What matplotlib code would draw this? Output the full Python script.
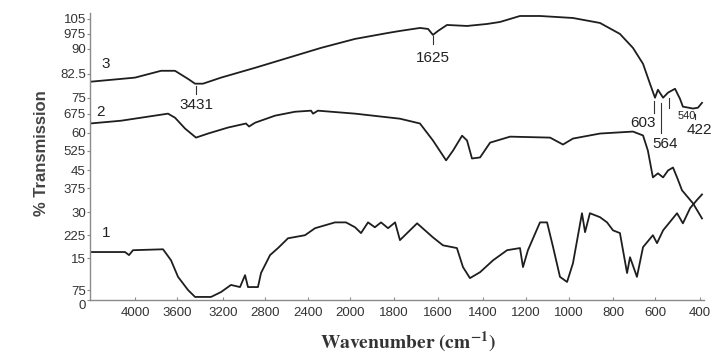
import numpy as np
import matplotlib
matplotlib.use("Agg")
import matplotlib.pyplot as plt

plt.rcParams['font.family'] = ['Liberation Sans', 'DejaVu Sans']
plt.rcParams['mathtext.fontset'] = 'stix'

# spectrum 3 (top)
wn3 = [4400, 4000, 3752, 3619, 3504, 3443, 3374, 3217, 2895, 2586, 2276, 1977,
       1827, 1773, 1682, 1645, 1623, 1600, 1560, 1471, 1381, 1321, 1228, 1135,
       982, 859, 767, 705, 657, 624, 600, 587, 564, 542, 511, 489, 476, 431, 409, 395]
t3 = [80.0, 81.3, 83.4, 83.4, 80.9, 79.4, 79.4, 81.3, 84.3, 87.3, 90.5, 95.0,
      98.0, 99.0, 100.5, 100.0, 97.0, 99.0, 102.0, 101.5, 102.5, 103.5, 106.5, 106.5,
      105.5, 103.0, 97.5, 90.5, 85.5, 79.4, 75.0, 77.5, 75.0, 76.6, 77.8, 74.5, 70.8, 69.9, 70.3, 72.6]

# spectrum 2 (middle)
wn2 = [4400, 4124, 3686, 3619, 3530, 3435, 3330, 3152, 2981, 2952, 2895, 2707,
       2521, 2371, 2352, 2305, 1977, 1773, 1682, 1623, 1564, 1533, 1493, 1471,
       1449, 1413, 1367, 1274, 1088, 1028, 982, 859, 705, 657, 634, 610, 587,
       564, 542, 520, 502, 480, 431, 395]
t2 = [63.6, 64.7, 67.5, 65.9, 61.6, 57.9, 59.6, 62.0, 63.6, 62.4, 63.9, 66.7,
      68.4, 68.9, 67.5, 68.9, 67.5, 65.5, 63.6, 56.7, 48.8, 52.5, 58.7, 56.7,
      49.5, 49.9, 55.8, 58.3, 57.9, 55.0, 57.5, 59.6, 60.4, 58.8, 52.5, 42.1, 43.8,
      42.1, 45.0, 46.1, 42.1, 36.9, 32.8, 28.0]

# spectrum 1 (bottom)
wn1 = [4400, 4089, 4053, 4018, 3733, 3657, 3591, 3504, 3443, 3304, 3217, 3124,
       3038, 2990, 2962, 2867, 2838, 2753, 2679, 2586, 2428, 2333, 2143, 2038,
       1977, 1950, 1918, 1887, 1859, 1827, 1795, 1773, 1695, 1623, 1578, 1516,
       1489, 1458, 1413, 1353, 1288, 1228, 1214, 1191, 1135, 1102, 1074, 1042,
       1009, 982, 941, 927, 905, 859, 827, 800, 767, 733, 719, 686, 657, 610,
       591, 564, 502, 476, 444, 413, 395]
t1 = [17.0, 17.0, 16.0, 17.6, 17.9, 14.5, 10.6, 7.5, 2.3, 2.3, 6.0, 8.7,
      8.2, 11.0, 8.2, 8.2, 11.5, 16.0, 18.3, 21.5, 22.5, 24.8, 26.7, 26.7,
      25.1, 23.2, 26.7, 25.1, 26.7, 24.8, 26.7, 20.9, 26.4, 21.8, 19.2, 18.3,
      12.9, 10.3, 11.7, 14.5, 17.6, 18.3, 12.9, 17.6, 26.7, 26.7, 18.6, 10.6,
      9.4, 13.8, 29.7, 23.5, 29.7, 28.4, 26.7, 24.1, 23.2, 11.5, 15.3, 10.6, 18.6, 22.5,
      19.9, 24.1, 29.7, 26.4, 31.3, 33.9, 35.6]

xtick_vals = [4000, 3600, 3200, 2800, 2400, 2000, 1800, 1600, 1400, 1200, 1000, 800, 600, 400]
ytick_vals = [0, 7.5, 15, 22.5, 30, 37.5, 45, 52.5, 60, 67.5, 75, 82.5, 90, 97.5, 105]
ytick_text = ["0", "75", "15", "225", "30", "375", "45", "525", "60", "675",
              "75", "82.5", "90", "975", "105"]

# peak marks: (label, wavenumber, line from, line to, label x, label y, size)
peaks = [("3431", 3431, 78.8, 76.3, 3431, 71.7, 11),
         ("1625", 1625, 96.5, 92.5, 1625, 87.3, 11),
         ("603", 603, 73.6, 67.9, 657, 63.9, 11),
         ("564", 572, 72.7, 60.0, 555, 55.4, 11),
         ("540", 540, 75.0, 70.3, 458, 66.7, 8),
         ("422", 424, 67.5, 65.5, 404, 61.2, 11)]

# the hand drawn axes of the original are not linear
xk_w = np.array([390, 400, 600, 800, 1000, 1200, 1400, 1600, 1800, 2000, 2400,
                 2800, 3200, 3600, 4000, 4400], float)
xk_p = -np.array([704, 700, 655, 613, 569, 526, 483, 438, 394, 350, 308,
                  265, 223, 177, 135, 90], float)
yk_v = [0, 7.5, 15, 22.5, 30, 37.5, 45, 52.5, 60, 67.5, 75, 82.5, 90, 97.5, 105, 110]
yk_p = [0, 10, 42, 65, 88, 112, 130, 150, 168, 187, 203, 227, 252, 267, 282, 292]


def xf(x):
    return np.interp(np.asarray(x, float), xk_w, xk_p)


def xi(p):
    return np.interp(np.asarray(p, float), xk_p, xk_w)


def yf(y):
    return np.interp(np.asarray(y, float), yk_v, yk_p)


def yi(p):
    return np.interp(np.asarray(p, float), yk_p, yk_v)


fig = plt.figure(figsize=(7.23, 3.56), dpi=100)
ax = fig.add_axes([90 / 723, 56 / 356, 614 / 723, 287 / 356])
ax.set_xscale('function', functions=(xf, xi))
ax.set_yscale('function', functions=(yf, yi))

lc = '#1e1e1e'
for wn, t in [(wn3, t3), (wn2, t2), (wn1, t1)]:
    ax.plot(wn, t, color=lc, lw=1.3)

for lab, w, y0, y1, tx, ty, fs in peaks:
    ax.plot([w, w], [y0, y1], color='#333333', lw=0.8)
    ax.text(tx, ty, lab, ha='center', va='center', fontsize=fs, color='#222222')

ax.text(4258, 85.5, "3", fontsize=11, ha='center', va='center', color='#222222')
ax.text(4311, 68.4, "2", fontsize=11, ha='center', va='center', color='#222222')
ax.text(4258, 23.2, "1", fontsize=11, ha='center', va='center', color='#222222')

ax.set_xlim(4400, 390)
ax.set_ylim(0, 108)
ax.set_xticks(xtick_vals)
ax.set_xticklabels([str(v) for v in xtick_vals])
ax.set_yticks(ytick_vals)
ax.set_yticklabels(ytick_text)
ax.minorticks_off()

for s in ['top', 'right']:
    ax.spines[s].set_visible(False)
for s in ['left', 'bottom']:
    ax.spines[s].set_color('#8a8a8a')
    ax.spines[s].set_linewidth(1.0)
ax.tick_params(axis='both', length=2, width=0.8, color='#8a8a8a',
               labelsize=9.5, labelcolor='#333333')
ax.tick_params(axis='x', direction='in', pad=5)
ax.tick_params(axis='y', direction='out', pad=1)
ax.get_yticklabels()[0].set_va('top')

fig.text(42 / 723, 1 - 153 / 356, "% Transmission", rotation=90, ha='center',
         va='center', fontsize=12, fontweight='bold', color='#444444')
fig.text(408 / 723, 1 - 342 / 356, r'$\mathbf{Wavenumber\ (cm^{-1})}$', ha='center',
         va='center', fontsize=14, color='#333333')

fig.savefig("out.png", dpi=100)
